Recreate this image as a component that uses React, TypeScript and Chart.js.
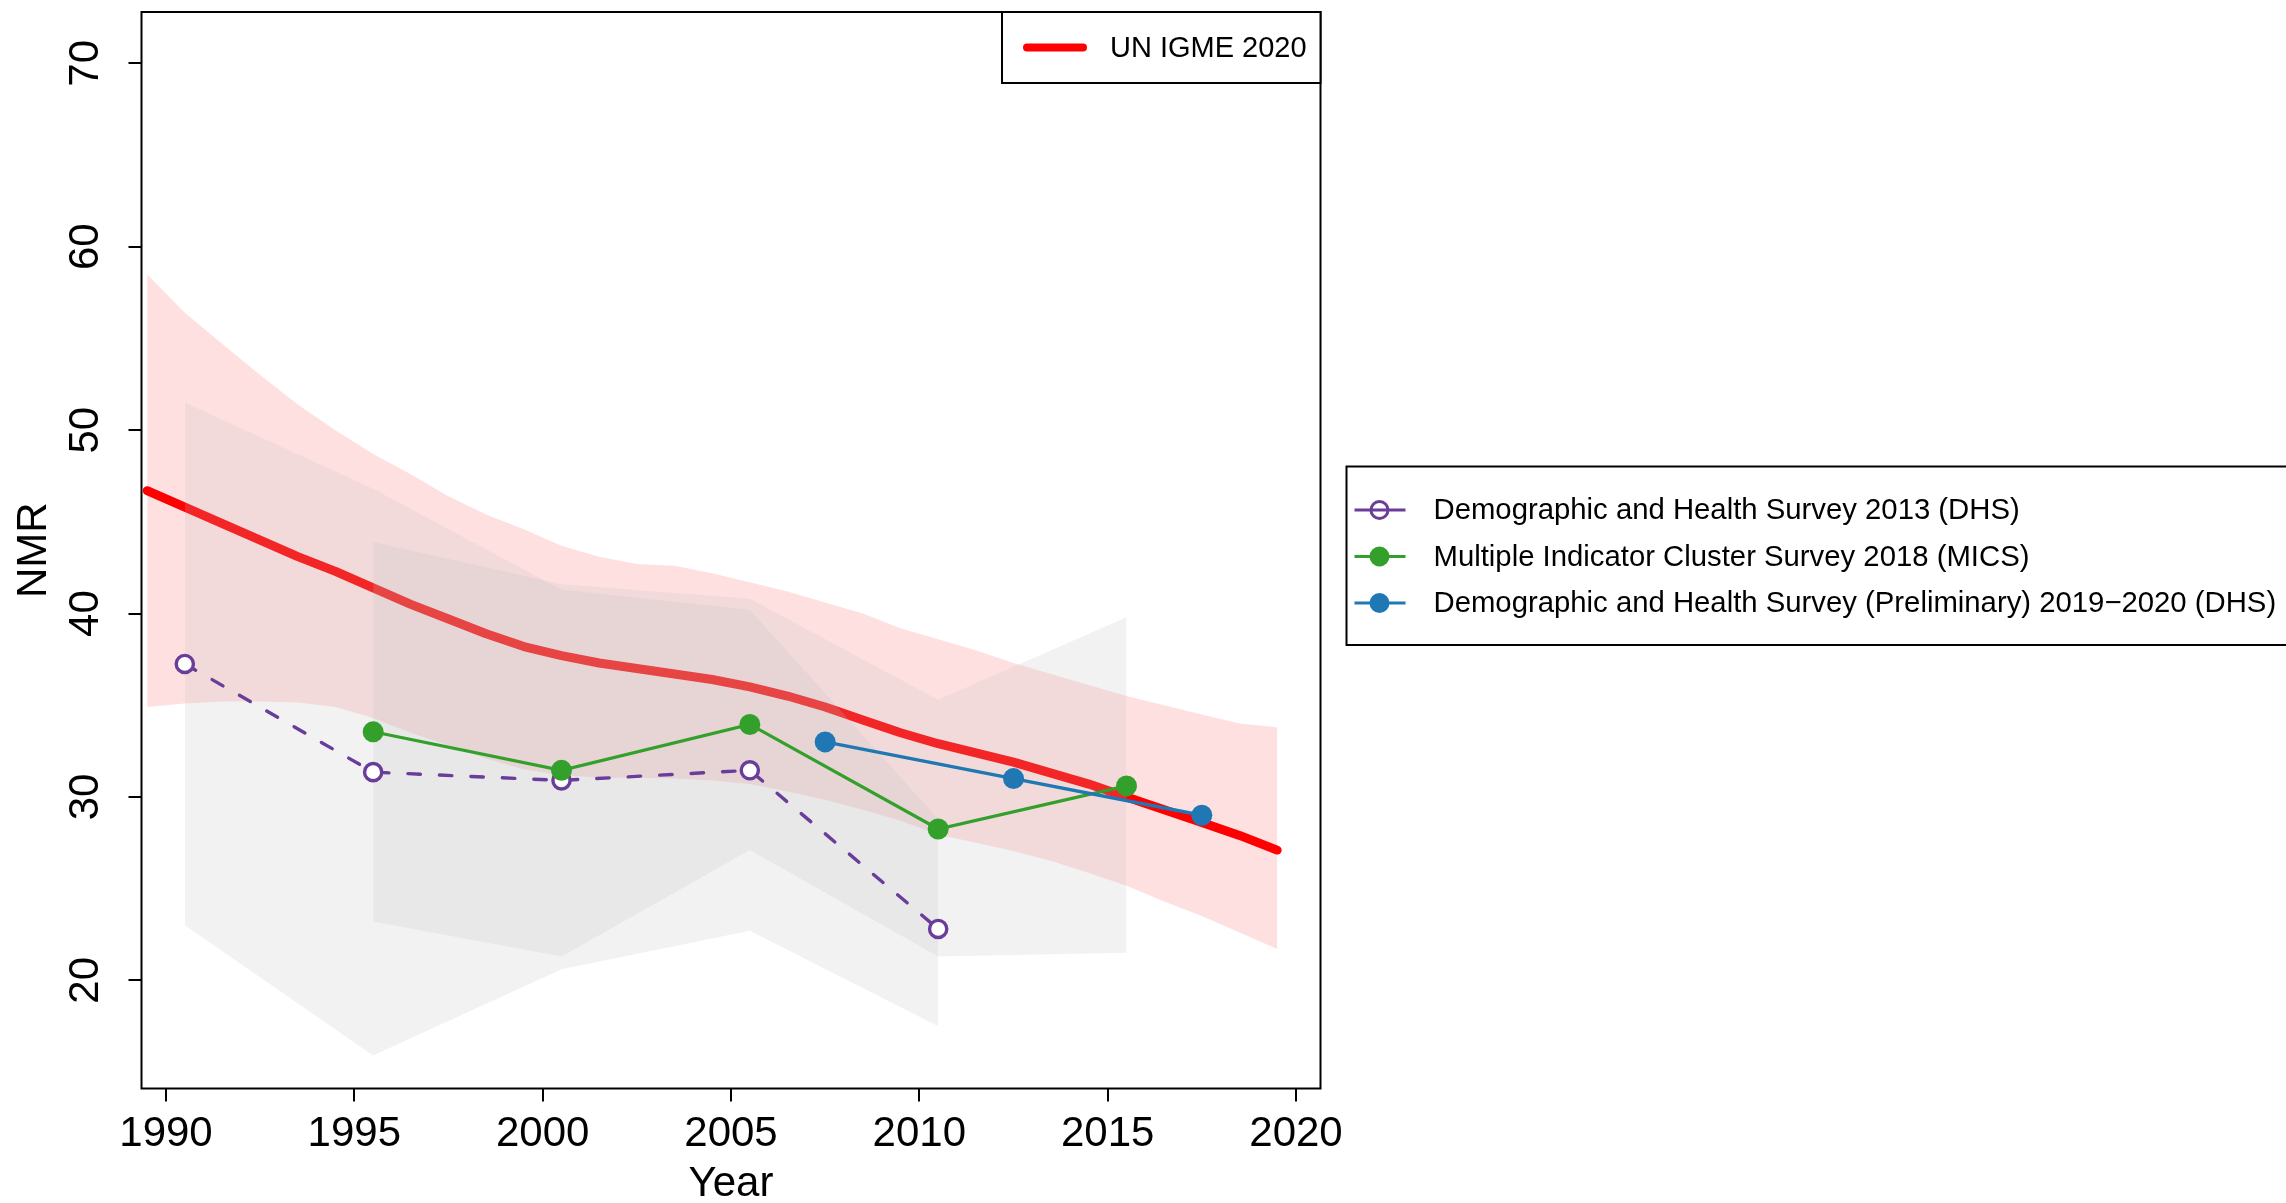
import React, { useEffect, useRef } from "react";
import { Chart, registerables } from "chart.js";

Chart.register(...registerables);

// ---------- Data ----------
const estYears = [
  1989.5, 1990.5, 1991.5, 1992.5, 1993.5, 1994.5, 1995.5, 1996.5, 1997.5, 1998.5,
  1999.5, 2000.5, 2001.5, 2002.5, 2003.5, 2004.5, 2005.5, 2006.5, 2007.5, 2008.5,
  2009.5, 2010.5, 2011.5, 2012.5, 2013.5, 2014.5, 2015.5, 2016.5, 2017.5, 2018.5, 2019.5,
];
const estValues = [
  46.7, 45.8, 44.9, 44.0, 43.1, 42.3, 41.4, 40.5, 39.7, 38.9,
  38.2, 37.7, 37.3, 37.0, 36.7, 36.4, 36.0, 35.5, 34.9, 34.2,
  33.5, 32.9, 32.4, 31.9, 31.3, 30.7, 30.0, 29.3, 28.6, 27.9, 27.1,
];
const estUpper = [
  58.5, 56.4, 54.7, 53.0, 51.4, 50.0, 48.7, 47.6, 46.4, 45.4,
  44.6, 43.7, 43.1, 42.7, 42.6, 42.2, 41.7, 41.2, 40.6, 40.0,
  39.2, 38.6, 38.0, 37.3, 36.7, 36.1, 35.5, 35.0, 34.5, 34.0, 33.8,
];
const estLower = [
  34.9, 35.1, 35.2, 35.2, 35.15, 34.9, 34.3, 33.5, 32.8, 32.1,
  31.5, 31.2, 31.05, 31.05, 31.0, 30.9, 30.7, 30.3, 29.85, 29.3,
  28.7, 27.95, 27.5, 27.05, 26.5, 25.85, 25.15, 24.3, 23.5, 22.6, 21.7,
];

const dhs2013Years = [1990.5, 1995.5, 2000.5, 2005.5, 2010.5];
const dhs2013Values = [37.25, 31.35, 30.9, 31.45, 22.8];
const dhs2013Upper = [51.5, 46.8, 41.3, 40.2, 28.8];
const dhs2013Lower = [23.0, 15.9, 20.6, 22.7, 17.5];

const micsYears = [1995.5, 2000.5, 2005.5, 2010.5, 2015.5];
const micsValues = [33.55, 31.45, 33.95, 28.25, 30.6];
const micsUpper = [43.9, 41.6, 40.8, 35.3, 39.8];
const micsLower = [23.2, 21.3, 27.1, 21.3, 21.5];

const dhsPrelimYears = [2007.5, 2012.5, 2017.5];
const dhsPrelimValues = [33.0, 31.0, 29.0];

const xTickValues = [1990, 1995, 2000, 2005, 2010, 2015, 2020];
const yTickValues = [20, 30, 40, 50, 60, 70];

const estimateLabel = "UN IGME 2020";
const surveyNames = [
  "Demographic and Health Survey 2013 (DHS)",
  "Multiple Indicator Cluster Survey 2018 (MICS)",
  "Demographic and Health Survey (Preliminary) 2019\u22122020 (DHS)",
];

// ---------- Styles ----------
const FONT = '"Liberation Sans", Arial, Helvetica, sans-serif';
const RED = "#FF0000";
const PINK = "rgba(255,0,0,0.12)";
const GREY = "rgba(190,190,190,0.2)";
const PURPLE = "#6A3D9A";
const GREEN = "#33A02C";
const BLUE = "#1F78B4";
const surveyColors = [PURPLE, GREEN, BLUE];

const pts = (xs: number[], ys: number[]) => xs.map((x, i) => ({ x, y: ys[i] }));

const bandBase = {
  borderWidth: 0,
  borderColor: "rgba(0,0,0,0)",
  pointRadius: 0,
  pointHoverRadius: 0,
  tension: 0,
};

const overlayPlugin = {
  id: "overlay",
  afterDraw(chart: any) {
    const { ctx, chartArea: a, scales } = chart;
    ctx.save();
    // plot frame
    ctx.strokeStyle = "#000";
    ctx.lineWidth = 2;
    ctx.strokeRect(a.left, a.top, a.right - a.left, a.bottom - a.top);

    // y tick labels (rotated, R style)
    ctx.fillStyle = "#000";
    ctx.font = `42px ${FONT}`;
    ctx.textAlign = "center";
    ctx.textBaseline = "middle";
    for (const v of yTickValues) {
      const y = scales.y.getPixelForValue(v);
      ctx.save();
      ctx.translate(a.left - 55, y);
      ctx.rotate(-Math.PI / 2);
      ctx.fillText(String(v), 0, 0);
      ctx.restore();
    }

    // legend 1 (inside, top-right)
    const l1x = a.right - 318.5;
    const l1h = 71;
    ctx.fillStyle = "#fff";
    ctx.fillRect(l1x, a.top, a.right - l1x, l1h);
    ctx.strokeStyle = "#000";
    ctx.lineWidth = 2;
    ctx.strokeRect(l1x, a.top, a.right - l1x, l1h);
    const l1y = a.top + l1h / 2;
    ctx.strokeStyle = RED;
    ctx.lineWidth = 8;
    ctx.lineCap = "round";
    ctx.beginPath();
    ctx.moveTo(l1x + 25, l1y);
    ctx.lineTo(l1x + 81, l1y);
    ctx.stroke();
    ctx.fillStyle = "#000";
    ctx.font = `29px ${FONT}`;
    ctx.textAlign = "left";
    ctx.textBaseline = "middle";
    ctx.fillText(estimateLabel, l1x + 108, l1y + 1);

    // legend 2 (outside, right)
    const bx = 1346.5;
    const by = 466.5;
    const bh = 178.5;
    ctx.lineCap = "butt";
    ctx.strokeStyle = "#000";
    ctx.lineWidth = 2;
    ctx.strokeRect(bx, by, 1200, bh);
    const rows = [by + 43.5, by + 90, by + 136.5];
    surveyNames.forEach((name, i) => {
      const y = rows[i];
      const c = surveyColors[i];
      ctx.strokeStyle = c;
      ctx.lineWidth = 3;
      ctx.beginPath();
      ctx.moveTo(bx + 8, y);
      ctx.lineTo(bx + 59, y);
      ctx.stroke();
      ctx.beginPath();
      if (i === 0) {
        ctx.lineWidth = 3;
        ctx.arc(bx + 33, y, 8.5, 0, Math.PI * 2);
        ctx.stroke();
      } else {
        ctx.fillStyle = c;
        ctx.arc(bx + 33, y, 10, 0, Math.PI * 2);
        ctx.fill();
      }
      ctx.fillStyle = "#000";
      ctx.font = `29.3px ${FONT}`;
      ctx.textAlign = "left";
      ctx.textBaseline = "middle";
      ctx.fillText(name, bx + 87, y + 1);
    });
    ctx.restore();
  },
};

export default function App() {
  const ref = useRef<HTMLCanvasElement>(null);

  useEffect(() => {
    document.body.style.margin = "0";
    const canvas = ref.current;
    if (!canvas) return;

    const chart = new Chart(canvas, {
      type: "line",
      data: {
        datasets: [
          { ...bandBase, label: "est upper", data: pts(estYears, estUpper), backgroundColor: PINK, fill: { target: 1 }, order: 10 } as any,
          { ...bandBase, label: "est lower", data: pts(estYears, estLower), fill: false, order: 10 } as any,
          {
            label: estimateLabel,
            data: pts(estYears, estValues),
            borderColor: RED,
            borderWidth: 9,
            borderCapStyle: "round",
            borderJoinStyle: "round",
            pointRadius: 0,
            fill: false,
            tension: 0,
            order: 9,
          } as any,
          { ...bandBase, label: "dhs upper", data: pts(dhs2013Years, dhs2013Upper), backgroundColor: GREY, fill: { target: 4 }, order: 8 } as any,
          { ...bandBase, label: "dhs lower", data: pts(dhs2013Years, dhs2013Lower), fill: false, order: 8 } as any,
          { ...bandBase, label: "mics upper", data: pts(micsYears, micsUpper), backgroundColor: GREY, fill: { target: 6 }, order: 7 } as any,
          { ...bandBase, label: "mics lower", data: pts(micsYears, micsLower), fill: false, order: 7 } as any,
          {
            label: surveyNames[0],
            data: pts(dhs2013Years, dhs2013Values),
            borderColor: PURPLE,
            borderWidth: 3.4,
            borderDash: [12.5, 19],
            borderCapStyle: "round",
            pointRadius: 8.6,
            pointBorderWidth: 3.4,
            pointBorderColor: PURPLE,
            pointBackgroundColor: "#fff",
            fill: false,
            tension: 0,
            order: 3,
          } as any,
          {
            label: surveyNames[1],
            data: pts(micsYears, micsValues),
            borderColor: GREEN,
            borderWidth: 3.2,
            pointRadius: 10.5,
            pointBorderWidth: 0,
            pointBackgroundColor: GREEN,
            fill: false,
            tension: 0,
            order: 2,
          } as any,
          {
            label: surveyNames[2],
            data: pts(dhsPrelimYears, dhsPrelimValues),
            borderColor: BLUE,
            borderWidth: 3.4,
            pointRadius: 10.5,
            pointBorderWidth: 0,
            pointBackgroundColor: BLUE,
            fill: false,
            tension: 0,
            order: 1,
          } as any,
        ],
      },
      options: {
        responsive: false,
        maintainAspectRatio: false,
        devicePixelRatio: 1,
        animation: false,
        events: [],
        layout: { padding: { top: 10.7, right: 965.5, bottom: 0, left: 0 } },
        plugins: {
          legend: { display: false },
          tooltip: { enabled: false },
          filler: { propagate: false },
        },
        scales: {
          x: {
            type: "linear",
            min: 1989.35,
            max: 2020.65,
            afterBuildTicks: (s: any) => {
              s.ticks = xTickValues.map((v) => ({ value: v }));
            },
            afterFit: (s: any) => {
              s.height = 114.5;
            },
            border: { display: false },
            grid: { drawOnChartArea: false, drawTicks: true, tickLength: 13, color: "#000", lineWidth: 2 },
            ticks: {
              color: "#000",
              font: { family: FONT, size: 42 },
              padding: 8,
              maxRotation: 0,
              minRotation: 0,
              autoSkip: false,
              callback: (v: any) => String(v),
            },
            title: {
              display: true,
              text: "Year",
              color: "#000",
              font: { family: FONT, size: 42, lineHeight: 0.9 },
              padding: 0,
            },
          },
          y: {
            type: "linear",
            min: 14.1,
            max: 72.8,
            afterBuildTicks: (s: any) => {
              s.ticks = yTickValues.map((v) => ({ value: v }));
            },
            afterFit: (s: any) => {
              s.width = 141.5;
            },
            border: { display: false },
            grid: { drawOnChartArea: false, drawTicks: true, tickLength: 13, color: "#000", lineWidth: 2 },
            ticks: { display: false },
            title: {
              display: true,
              text: "NMR",
              color: "#000",
              font: { family: FONT, size: 42, lineHeight: 1 },
              padding: { top: 13, bottom: 0 },
            },
          },
        },
      } as any,
      plugins: [overlayPlugin],
    });

    return () => chart.destroy();
  }, []);

  return (
    <div style={{ position: "absolute", left: 0, top: 0, width: 2286, height: 1203, background: "#fff" }}>
      <canvas ref={ref} width={2286} height={1203} style={{ width: 2286, height: 1203, display: "block" }} />
    </div>
  );
}
